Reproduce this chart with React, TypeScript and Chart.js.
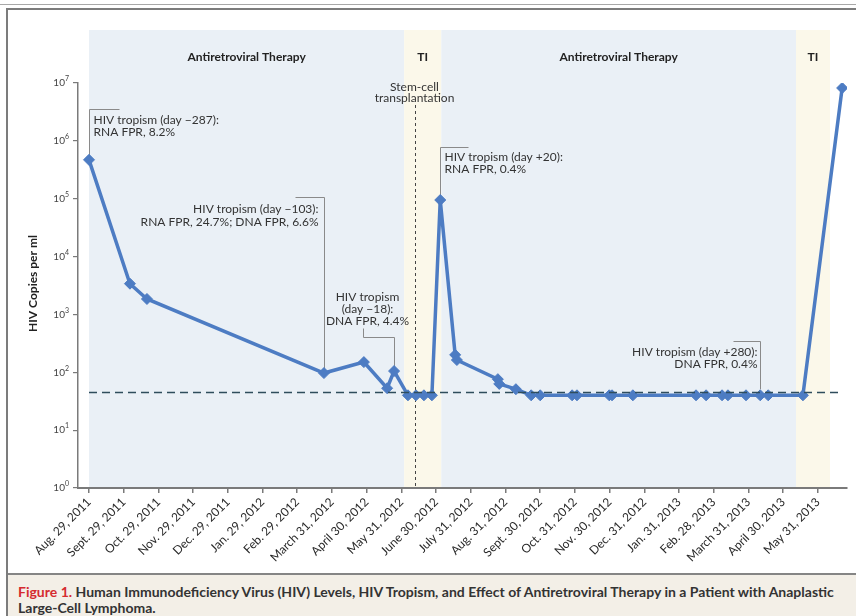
import React, { useEffect, useRef } from "react";
import { Chart, registerables } from "chart.js";

Chart.register(...registerables);

// ---------- data ----------
const tickLabels = [
  "Aug. 29, 2011", "Sept. 29, 2011", "Oct. 29, 2011", "Nov. 29, 2011", "Dec. 29, 2011",
  "Jan. 29, 2012", "Feb. 29, 2012", "March 31, 2012", "April 30, 2012", "May 31, 2012",
  "June 30, 2012", "July 31, 2012", "Aug. 31, 2012", "Sept. 30, 2012", "Oct. 31, 2012",
  "Nov. 30, 2012", "Dec. 31, 2012", "Jan. 31, 2013", "Feb. 28, 2013", "March 31, 2013",
  "April 30, 2013", "May 31, 2013",
];

// sample time, in tick steps from Aug. 29, 2011
const sampleMonths = [
  0, 1.18, 1.67, 6.77, 7.92, 8.59, 8.79, 9.19, 9.42, 9.65, 9.88, 10.12, 10.55, 10.6,
  11.78, 11.82, 12.3, 12.74, 13.0, 13.92, 14.06, 14.99, 15.07, 15.67, 17.49, 17.78,
  18.24, 18.41, 18.93, 19.34, 19.57, 20.57, 21.7,
];

const copiesPerMl = [
  470000, 3400, 1850, 97, 150, 53, 105, 40, 40, 40, 40, 95000, 200, 163,
  76, 63, 51, 40, 40, 40, 40, 40, 40, 40, 40, 40,
  40, 40, 40, 40, 40, 40, 8200000,
];

const yDecades = [0, 1, 2, 3, 4, 5, 6, 7];

const phaseNames = ["Antiretroviral Therapy", "TI", "Antiretroviral Therapy", "TI"];
const phaseStart = [0, 9.08, 10.15, 20.37];
const phaseEnd = [9.08, 10.15, 20.37, 21.35];

const transplantMonth = 9.38;
const transplantLabel = ["Stem-cell", "transplantation"];
const detectionLimit = 45;

const annotationTexts = [
  ["HIV tropism (day \u2212287):", "RNA FPR, 8.2%"],
  ["HIV tropism (day \u2212103):", "RNA FPR, 24.7%; DNA FPR, 6.6%"],
  ["HIV tropism", "(day \u221218):", "DNA FPR, 4.4%"],
  ["HIV tropism (day +20):", "RNA FPR, 0.4%"],
  ["HIV tropism (day +280):", "DNA FPR, 0.4%"],
];
const annotationPointIndex = [0, 3, 6, 11, 29];

const yTitle = "HIV Copies per ml";

// ---------- styles ----------
const W = 856;
const H = 616;
const FONT = "Lato, 'Open Sans', sans-serif";
const LINE_BLUE = "#4d7cc3";
const BAND_BLUE = "#eaf0f6";
const BAND_BEIGE = "#fbf8ea";
const AXIS_GRAY = "#7a7a7a";
const TEXT = "#333333";

export default function App() {
  const ref = useRef<HTMLCanvasElement>(null);

  useEffect(() => {
    const canvas = ref.current;
    if (!canvas) return;

    const backgroundPlugin = {
      id: "backgroundBands",
      beforeDraw(chart: any) {
        const { ctx, chartArea: a, scales } = chart;
        const x = scales.x;
        ctx.save();
        ctx.fillStyle = "#ffffff";
        ctx.fillRect(0, 0, W, H);

        // frame lines
        ctx.strokeStyle = "#a8a8a8";
        ctx.lineWidth = 1;
        ctx.beginPath();
        ctx.moveTo(0, 4.5);
        ctx.lineTo(W, 4.5);
        ctx.stroke();
        ctx.strokeStyle = "#7c7c7c";
        ctx.lineWidth = 2;
        ctx.beginPath();
        ctx.moveTo(6, 9);
        ctx.lineTo(W, 9);
        ctx.stroke();
        ctx.beginPath();
        ctx.moveTo(7, 8);
        ctx.lineTo(7, H);
        ctx.stroke();

        // therapy bands
        const bandTop = a.top - 53;
        for (let i = 0; i < phaseNames.length; i++) {
          const x0 = x.getPixelForValue(phaseStart[i]);
          const x1 = x.getPixelForValue(phaseEnd[i]);
          ctx.fillStyle = phaseNames[i] === "TI" ? BAND_BEIGE : BAND_BLUE;
          ctx.fillRect(x0, bandTop, x1 - x0, a.bottom - bandTop);
          ctx.fillStyle = "#222";
          ctx.font = `bold 12px ${FONT}`;
          ctx.textAlign = "center";
          ctx.textBaseline = "middle";
          ctx.fillText(phaseNames[i], (x0 + x1) / 2, a.top - 26);
        }
        ctx.restore();
      },
      beforeDatasetsDraw(chart: any) {
        const { ctx, chartArea: a, scales } = chart;
        const x = scales.x;
        const y = scales.y;
        ctx.save();

        // transplantation marker
        const tx = Math.round(x.getPixelForValue(transplantMonth)) + 0.5;
        ctx.strokeStyle = "#444";
        ctx.lineWidth = 1;
        ctx.setLineDash([3, 3]);
        ctx.beginPath();
        ctx.moveTo(tx, a.top + 22);
        ctx.lineTo(tx, a.bottom);
        ctx.stroke();
        ctx.setLineDash([]);
        ctx.fillStyle = TEXT;
        ctx.font = `12px ${FONT}`;
        ctx.textAlign = "center";
        ctx.textBaseline = "middle";
        transplantLabel.forEach((t, k) => ctx.fillText(t, tx - 1, a.top + 4 + k * 11));

        // tropism callouts
        ctx.strokeStyle = "#8a8a8a";
        ctx.lineWidth = 1;
        ctx.font = `12px ${FONT}`;
        ctx.fillStyle = TEXT;
        ctx.textBaseline = "middle";
        annotationPointIndex.forEach((pi, k) => {
          const px = Math.round(x.getPixelForValue(sampleMonths[pi])) + 0.5;
          const py = y.getPixelForValue(copiesPerMl[pi]);
          const lines = annotationTexts[k];
          ctx.beginPath();
          if (k === 0) {
            const top = Math.round(py - 51) + 0.5;
            ctx.moveTo(px, py);
            ctx.lineTo(px, top);
            ctx.lineTo(px + 30, top);
            ctx.stroke();
            ctx.textAlign = "left";
            lines.forEach((t, j) => ctx.fillText(t, px + 4, top + 11 + j * 12));
          } else if (k === 1) {
            const top = Math.round(py - 176) + 0.5;
            ctx.moveTo(px, py);
            ctx.lineTo(px, top);
            ctx.lineTo(px - 29, top);
            ctx.stroke();
            ctx.textAlign = "right";
            lines.forEach((t, j) => ctx.fillText(t, px - 6, top + 12 + j * 13));
          } else if (k === 2) {
            const elbow = Math.round(py - 34) + 0.5;
            ctx.moveTo(px, py);
            ctx.lineTo(px, elbow);
            ctx.lineTo(px - 31, elbow);
            ctx.lineTo(px - 31, elbow - 9);
            ctx.stroke();
            ctx.textAlign = "center";
            lines.forEach((t, j) => ctx.fillText(t, px - 27, elbow - 40 + j * 12));
          } else if (k === 3) {
            const top = Math.round(py - 53) + 0.5;
            ctx.moveTo(px, py);
            ctx.lineTo(px, top);
            ctx.lineTo(px + 28, top);
            ctx.stroke();
            ctx.textAlign = "left";
            lines.forEach((t, j) => ctx.fillText(t, px + 4, top + 10 + j * 12));
          } else {
            const top = Math.round(py - 54) + 0.5;
            ctx.moveTo(px, py - 6);
            ctx.lineTo(px, top);
            ctx.lineTo(px - 27, top);
            ctx.stroke();
            ctx.textAlign = "right";
            lines.forEach((t, j) => ctx.fillText(t, px - 3, top + 11 + j * 12));
          }
        });
        ctx.restore();
      },
      afterDatasetsDraw(chart: any) {
        const { ctx, scales } = chart;
        const x = scales.x;
        const y = scales.y;
        ctx.save();
        const ly = Math.round(y.getPixelForValue(detectionLimit)) + 0.5;
        ctx.strokeStyle = "#2f4d5c";
        ctx.lineWidth = 1.6;
        ctx.setLineDash([8, 5]);
        ctx.beginPath();
        ctx.moveTo(x.getPixelForValue(sampleMonths[0]), ly);
        ctx.lineTo(x.getPixelForValue(sampleMonths[sampleMonths.length - 1]), ly);
        ctx.stroke();
        ctx.restore();
      },
      afterDraw(chart: any) {
        const { ctx, chartArea: a, scales } = chart;
        const y = scales.y;
        ctx.save();
        // y tick labels: 10^n
        const right = a.left - 9;
        ctx.fillStyle = "#444";
        ctx.textBaseline = "middle";
        ctx.textAlign = "left";
        yDecades.forEach((d) => {
          const py = y.getPixelForValue(Math.pow(10, d));
          ctx.font = `7px ${FONT}`;
          const we = ctx.measureText(String(d)).width;
          ctx.font = `10px ${FONT}`;
          const wb = ctx.measureText("10").width;
          ctx.fillText("10", right - we - wb, py);
          ctx.font = `7px ${FONT}`;
          ctx.fillText(String(d), right - we, py - 4);
        });
        // y title
        ctx.translate(33, (a.top + a.bottom) / 2 - 2);
        ctx.rotate(-Math.PI / 2);
        ctx.font = `bold 12px ${FONT}`;
        ctx.fillStyle = "#222";
        ctx.textAlign = "center";
        ctx.fillText(yTitle, 0, 0);
        ctx.restore();
      },
    };

    const chart = new Chart(canvas, {
      type: "line",
      data: {
        datasets: [
          {
            data: sampleMonths.map((m, i) => ({ x: m, y: copiesPerMl[i] })),
            borderColor: LINE_BLUE,
            backgroundColor: LINE_BLUE,
            borderWidth: 3.5,
            pointStyle: "rectRot",
            pointRadius: 5.5,
            pointBorderWidth: 1,
            pointBorderColor: LINE_BLUE,
            pointBackgroundColor: LINE_BLUE,
            tension: 0,
          },
        ],
      },
      options: {
        responsive: false,
        animation: false,
        events: [],
        layout: { padding: { top: 83, left: 0, right: 9, bottom: 41 } },
        plugins: { legend: { display: false }, tooltip: { enabled: false } },
        scales: {
          x: {
            type: "linear",
            min: -0.317,
            max: 21.84,
            afterBuildTicks: (s: any) => {
              s.ticks = tickLabels.map((_, i) => ({ value: i }));
            },
            afterFit: (s: any) => {
              s.height = 87;
            },
            ticks: {
              autoSkip: false,
              minRotation: 45,
              maxRotation: 45,
              padding: 2,
              color: "#2a2a2a",
              font: { family: FONT, size: 12 },
              callback: (v: any) => tickLabels[v as number] ?? "",
            },
            grid: {
              display: true,
              drawOnChartArea: false,
              drawTicks: true,
              tickLength: 5,
              color: AXIS_GRAY,
              lineWidth: 1.5,
            },
            border: { display: true, color: AXIS_GRAY, width: 2 },
          },
          y: {
            type: "logarithmic",
            min: 1,
            max: 1e7,
            afterBuildTicks: (s: any) => {
              s.ticks = yDecades.map((d) => ({ value: Math.pow(10, d) }));
            },
            afterFit: (s: any) => {
              s.width = 78;
            },
            ticks: { callback: () => "", padding: 0 },
            grid: {
              display: true,
              drawOnChartArea: false,
              drawTicks: true,
              tickLength: 5,
              color: AXIS_GRAY,
              lineWidth: 1.2,
            },
            border: { display: true, color: AXIS_GRAY, width: 1.5 },
          },
        },
      },
      plugins: [backgroundPlugin],
    } as any);

    return () => chart.destroy();
  }, []);

  return (
    <div style={{ position: "fixed", left: 0, top: 0, width: W, height: H, background: "#fff" }}>
      <canvas ref={ref} width={W} height={H} style={{ display: "block", width: W, height: H }} />
      <div
        style={{
          position: "absolute",
          left: 8,
          top: 573,
          width: W - 8,
          height: H - 573,
          boxSizing: "border-box",
          background: "#f3efe7",
          borderTop: "2px solid #858585",
          padding: "9px 0 0 10px",
          font: `bold 14px/16px ${FONT}`,
          color: "#333",
          whiteSpace: "nowrap",
        }}
      >
        <span style={{ color: "#d52b2f" }}>Figure 1.</span> Human Immunodeficiency Virus (HIV) Levels, HIV
        Tropism, and Effect of Antiretroviral Therapy in a Patient with Anaplastic
        <br />
        Large-Cell Lymphoma.
      </div>
    </div>
  );
}
